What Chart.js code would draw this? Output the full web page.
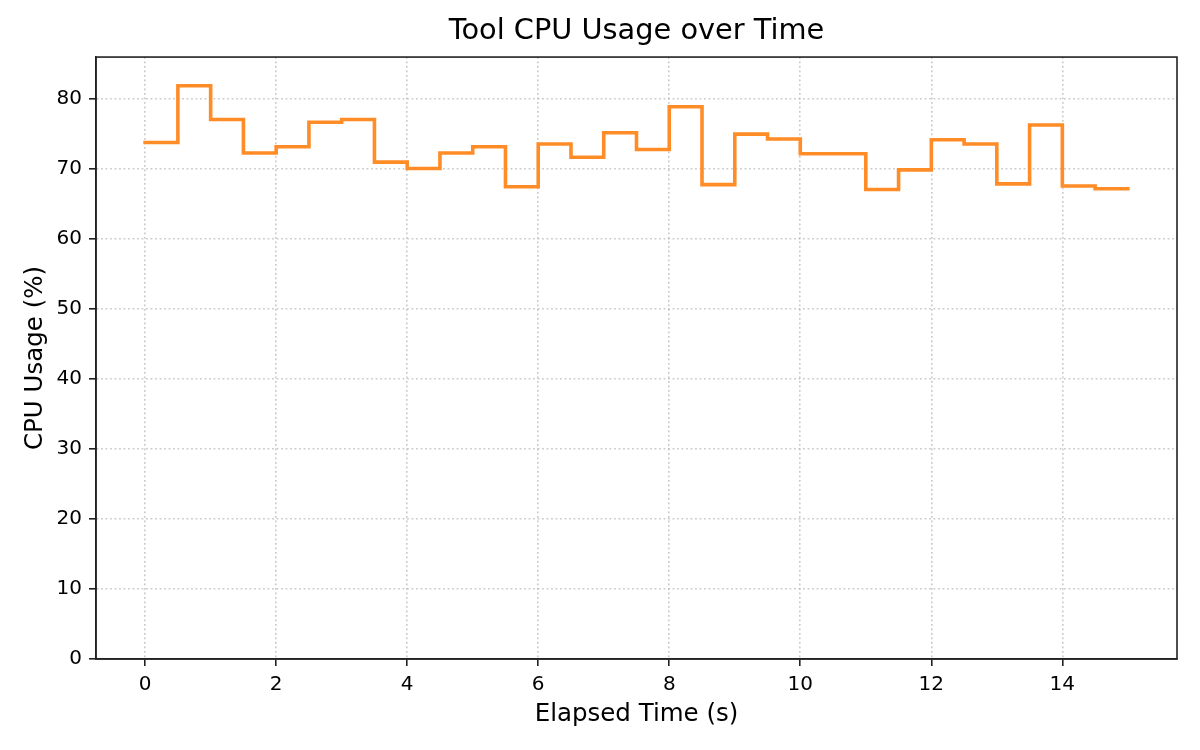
<!DOCTYPE html>
<html>
<head>
<meta charset="utf-8">
<title>Tool CPU Usage over Time</title>
<script src="https://cdn.jsdelivr.net/npm/chart.js@4.4.1/dist/chart.umd.min.js"></script>
<style>
	html, body { margin: 0; padding: 0; background: #fff; }
	#cpuChart { display: block; }
</style>
</head>
<body>
<canvas id="cpuChart" width="1200" height="750"></canvas>
<script>
// elapsed time of each sample (s), one every half second
const elapsedTimes = [
	0, 0.5, 1, 1.5, 2, 2.5, 3, 3.5, 4, 4.5,
	5, 5.5, 6, 6.5, 7, 7.5, 8, 8.5, 9, 9.5,
	10, 10.5, 11, 11.5, 12, 12.5, 13, 13.5, 14, 14.5, 15
]

// cpu usage (%)
const cpuUsage = [
	73.7, 81.8, 77.0, 72.2, 73.1, 76.6, 77.0, 70.9, 70.0, 72.2,
	73.1, 67.4, 73.5, 71.6, 75.1, 72.7, 78.8, 67.7, 74.9, 74.2,
	72.1, 72.1, 67.0, 69.8, 74.1, 73.5, 67.8, 76.2, 67.5, 67.1, 67.1
]

const xTicks = [0, 2, 4, 6, 8, 10, 12, 14]
const yTicks = [0, 10, 20, 30, 40, 50, 60, 70, 80]

const FONT = "'DejaVu Sans', 'Liberation Sans', sans-serif"
const GRID_COLOR = 'rgba(176, 176, 176, 0.7)'
const AXIS_COLOR = '#222'

/**
 * Draws the full box around the plot area, like matplotlib spines.
 */
const frameBox = {
	id: 'frameBox',
	afterDraw(chart) {
		const { ctx, chartArea } = chart
		ctx.save()
		ctx.strokeStyle = AXIS_COLOR
		ctx.lineWidth = 1.6
		ctx.strokeRect(chartArea.left, chartArea.top, chartArea.right - chartArea.left, chartArea.bottom - chartArea.top)
		ctx.restore()
	}
}

/**
 * @param {number[]} values
 */
function fixedTicks(values) {
	return (scale) => {
		scale.ticks = values.map((value) => ({ value }))
	}
}

const points = elapsedTimes.map((t, i) => ({ x: t, y: cpuUsage[i] }))

new Chart(document.getElementById('cpuChart'), {
	type: 'line',
	data: {
		datasets: [{
			label: 'CPU Usage',
			data: points,
			stepped: 'before',
			borderColor: '#ff8c26',
			borderWidth: 3.6,
			borderCapStyle: 'square',
			borderJoinStyle: 'miter',
			pointRadius: 0,
			fill: false
		}]
	},
	options: {
		responsive: false,
		animation: false,
		devicePixelRatio: 1,
		layout: { padding: { left: 0, right: 23, top: 0, bottom: 0 } },
		plugins: {
			legend: { display: false },
			tooltip: { enabled: false },
			title: {
				display: true,
				fullSize: false,
				text: 'Tool CPU Usage over Time',
				color: '#000',
				font: { family: FONT, size: 28.8, weight: 'normal' },
				padding: { top: 14, bottom: 8.5 }
			}
		},
		scales: {
			x: {
				type: 'linear',
				min: -0.75,
				max: 15.75,
				afterBuildTicks: fixedTicks(xTicks),
				afterFit: (scale) => { scale.height = 91 },
				grid: {
					color: GRID_COLOR,
					lineWidth: 1.6,
					tickLength: 7,
					tickColor: AXIS_COLOR,
					tickWidth: 1.6
				},
				border: { display: true, color: AXIS_COLOR, width: 1.6, dash: [1.7, 2.8] },
				ticks: {
					color: '#000',
					padding: 7,
					maxRotation: 0,
					font: { family: FONT, size: 20 }
				},
				title: {
					display: true,
					text: 'Elapsed Time (s)',
					color: '#000',
					font: { family: FONT, size: 24.5 },
					padding: { top: 0, bottom: 21 }
				}
			},
			y: {
				min: 0,
				max: 85.9,
				afterBuildTicks: fixedTicks(yTicks),
				afterFit: (scale) => { scale.width = 96 },
				grid: {
					color: GRID_COLOR,
					lineWidth: 1.6,
					tickLength: 7,
					tickColor: AXIS_COLOR,
					tickWidth: 1.6
				},
				border: { display: true, color: AXIS_COLOR, width: 1.6, dash: [1.7, 2.8] },
				ticks: {
					color: '#000',
					padding: 7,
					font: { family: FONT, size: 20 }
				},
				title: {
					display: true,
					text: 'CPU Usage (%)',
					color: '#000',
					font: { family: FONT, size: 24.5 },
					padding: { top: 20.5, bottom: 0 }
				}
			}
		}
	},
	plugins: [frameBox]
})
</script>
</body>
</html>
